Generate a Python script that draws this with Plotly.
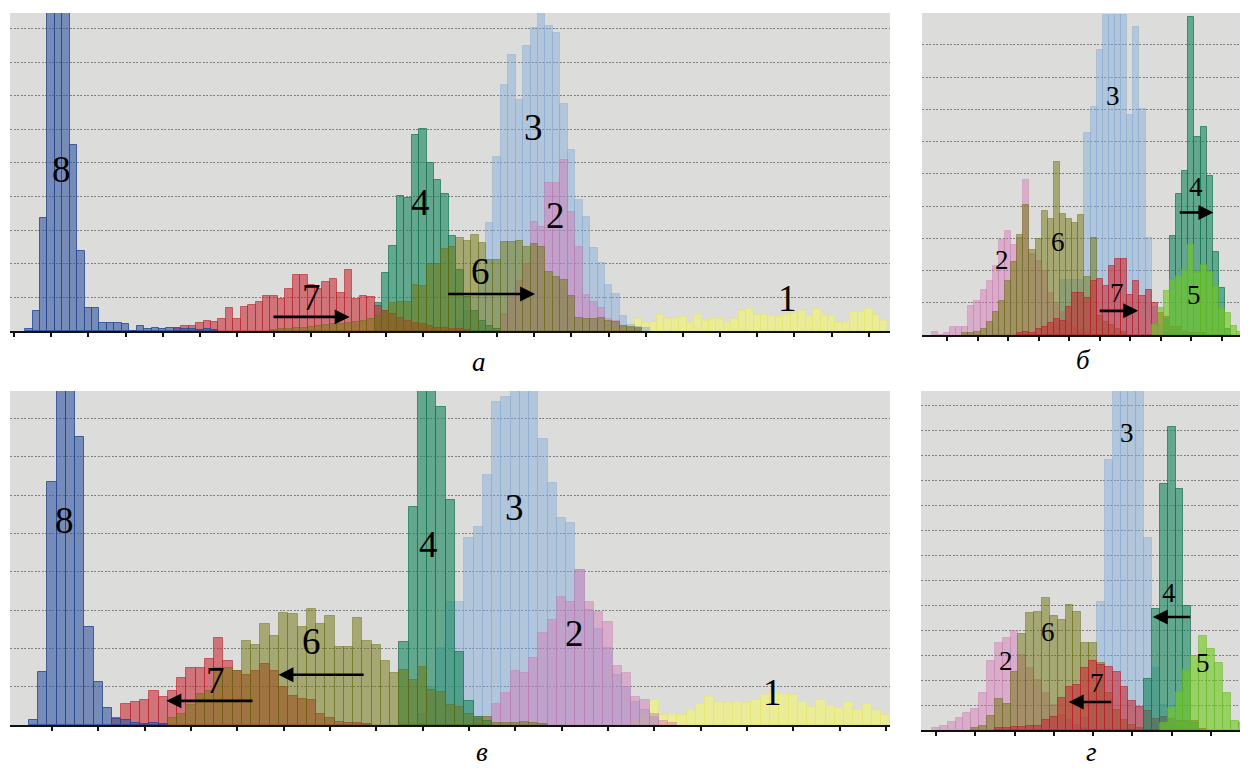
import plotly.graph_objects as go

BIN = 0.2  # bin width in tick units (5 bins per tick)

# ---------------- panel а (bin index start, heights in grid units) ----------------
A1_START = 80
A1 = [0.05, 0.08, 0.1, 0.18, 0.35, 0.25, 0.28, 0.48, 0.35, 0.35, 0.41, 0.25, 0.48, 0.31,
      0.35, 0.35, 0.28, 0.35, 0.6, 0.65, 0.48, 0.48, 0.45, 0.41, 0.48, 0.53, 0.6, 0.45,
      0.65, 0.48, 0.45, 0.25, 0.28, 0.57, 0.57, 0.65, 0.48, 0.31]
A2_START = 66
A2 = [0.5, 1.0, 1.5, 2.0, 3.25, 3.1, 4.41, 4.41, 5.09, 3.55, 2.51, 1.07, 0.87, 0.68, 0.35,
      0.31, 0.15, 0.1, 0.05]
A3_START = 60
A3 = [0.3, 0.6, 1.0, 1.8, 3.22, 5.19, 7.32, 8.21, 6.88, 8.48, 9.0, 9.8, 9.08, 8.86, 6.76,
      5.39, 3.9, 3.4, 2.46, 2.03, 1.37, 1.1, 0.45, 0.18, 0.13, 0.08]
A4_START = 49
A4 = [0.82, 1.72, 2.54, 4.01, 3.96, 5.83, 6.0, 4.99, 4.49, 4.09, 2.83, 1.8, 1.0, 0.6, 0.3,
      0.15, 0.05]
A6_START = 35
A6 = [0.03, 0.05, 0.05, 0.08, 0.1, 0.12, 0.15, 0.18, 0.2, 0.22, 0.25, 0.28, 0.3, 0.35,
      0.45, 0.6, 0.84, 0.85, 0.85, 1.37, 1.33, 1.99, 2.0, 2.43, 2.51, 2.76, 2.69, 2.86, 2.63,
      2.11, 2.11, 2.66, 2.66, 2.69, 2.49, 2.58, 2.51, 1.77, 1.62, 1.52, 1.04, 0.38, 0.35,
      0.35, 0.38, 0.31, 0.28, 0.15, 0.11, 0.08]
A7_START = 22
A7 = [0.05, 0.15, 0.15, 0.23, 0.31, 0.28, 0.35, 0.69, 0.35, 0.7, 0.76, 0.85, 1.04, 1.04,
      0.94, 1.24, 1.67, 1.67, 1.37, 1.25, 1.46, 1.56, 1.13, 1.82, 0.94, 1.04, 1.0, 0.73,
      0.6, 0.5, 0.4, 0.3, 0.25, 0.2, 0.15, 0.1, 0.08, 0.05, 0.05, 0.03]
A8_START = 2
A8 = [0.05, 0.6, 3.36, 11, 12, 10, 5.54, 2.38, 0.69, 0.69, 0.24, 0.24, 0.24, 0.2, 0, 0.15,
      0.05, 0.1, 0.05, 0.08, 0.1, 0.05, 0.05, 0.03, 0.05, 0.03]

# ---------------- panel б ----------------
B2_START = -2
B2 = [0.1, 0, 0.07, 0.26, 0.26, 0.26, 0.9, 1.04, 1.4, 1.68, 2.15, 2.94, 3.22, 2.8, 3.0,
      4.8, 2.5, 2.3, 2.0, 1.3, 1.0, 0.7, 0.4, 0.25, 0.15, 0.1]
B3_START = 18
B3 = [0.3, 1.7, 1.7, 1.7, 1.7, 6.26, 7.06, 8.85, 9.92, 9.93, 9.93, 9.93, 6.82, 9.55, 7.01,
      3.01, 0.88, 0.3, 0.1]
B4_START = 36
B4 = [0.5, 3.06, 4.36, 5.09, 9.86, 6.13, 6.44, 4.93, 2.56, 1.45, 0.2]
B5_START = 34
B5 = [0.3, 0.83, 1.35, 1.72, 1.82, 2.02, 2.8, 1.92, 2.18, 1.97, 1.5, 0.8, 0.67, 0.28, 0.1]
B6_START = 3
B6 = [0.07, 0.07, 0.1, 0.2, 0.39, 0.72, 1.04, 1.66, 2.25, 3.11, 4.02, 2.65, 2.98, 3.84, 3.6,
      5.37, 3.74, 3.6, 3.48, 3.71, 1.8, 3.0, 0.6, 0.4, 0.3, 0.2, 0.1]
B7_START = 12
B7 = [0.05, 0.08, 0.05, 0.18, 0.26, 0.36, 0.49, 0.42, 0.88, 1.3, 1.3, 1.15, 1.66, 1.74,
      1.51, 2.13, 2.36, 2.36, 1.25, 1.66, 1.2, 1.4, 0.99, 0.68, 0.57, 0.26, 0.26, 0.1, 0.07,
      0.05, 0.05]

# ---------------- panel в ----------------
C1_START = 63
C1 = [0.1, 0.3, 0.65, 0.26, 0.3, 0.26, 0.39, 0.54, 0.74, 0.61, 0.57, 0.61, 0.57, 0.65, 0.78,
      0.83, 0.8, 0.78, 0.59, 0.48, 0.65, 0.5, 0.44, 0.59, 0.39, 0.54, 0.39, 0.26]
C2_START = 46
C2 = [0.2, 0.2, 0.54, 0.83, 1.4, 1.35, 1.76, 2.4, 2.74, 3.35, 3.22, 4.05, 3.22, 2.96, 2.7,
      1.53, 1.35, 0.74, 0.65, 0.3, 0.1, 0.05]
C3_START = 40
C3 = [0.3, 1.0, 2.0, 3.2, 3.22, 4.87, 5.17, 6.54, 8.43, 8.57, 9.0, 9.2, 9.0, 7.48, 6.31,
      5.41, 5.27, 4.05, 3.0, 2.5, 2.0, 1.3, 1.0, 0.6, 0.4, 0.2]
C4_START = 38
C4 = [2.18, 5.7, 10.8, 10, 8.31, 5.87, 1.91, 0.62, 0.2, 0.1]
C6_START = 13
C6 = [0.17, 0.29, 0.51, 0.81, 0.9, 1.48, 1.48, 1.4, 2.19, 2.1, 2.65, 2.33, 2.93, 2.89, 2.57,
      3.03, 2.65, 2.85, 2.04, 2.04, 2.79, 2.19, 2.1, 1.67, 1.35, 1.43, 1.17, 1.52, 0.91,
      0.87, 0.51, 0.46, 0.3, 0.15, 0.2, 0.05, 0.05, 0.05, 0.08, 0.05, 0.03]
C7_START = 7
C7 = [0.17, 0.55, 0.59, 0.65, 0.89, 0.74, 0.9, 1.22, 1.5, 1.5, 1.72, 2.27, 1.66, 1.4, 1.3,
      1.4, 1.58, 1.4, 0.98, 0.77, 0.68, 0.64, 0.29, 0.17, 0.09, 0.05, 0.05, 0.03]
C8_START = -2
C8 = [0.13, 1.39, 6.35, 10, 10.5, 7.53, 2.57, 1.11, 0.45, 0.15, 0.13, 0.05, 0.03, 0.05, 0.03]

# ---------------- panel г ----------------
D2_START = 0
D2 = [0.09, 0.17, 0.33, 0.49, 0.67, 0.83, 1.47, 2.76, 3.47, 3.67, 3.96, 3.0, 2.5, 2.0, 1.5,
      1.0, 0.6, 0.4, 0.2, 0.1]
D3_START = 19
D3 = [0.5, 1.5, 5.11, 10.8, 14, 15, 14.5, 14, 7.69, 2.5, 1.0, 0.3]
D4_START = 27
D4 = [2.04, 4.84, 9.83, 12.13, 9.63, 4.97, 0.3]
D5_START = 29
D5 = [0.3, 0.89, 1.53, 2.4, 2.97, 3.77, 3.24, 2.67, 1.47, 0.36, 0.27]
D6_START = 5
D6 = [0.07, 0.17, 0.56, 1.24, 1.03, 2.31, 3.83, 4.67, 4.71, 5.27, 4.57, 4.4, 5.0, 4.71, 3.47,
      3.47, 2.7, 1.5, 0.8, 0.4, 0.2, 0.1]
D7_START = 8
D7 = [0.07, 0.1, 0.12, 0.12, 0.17, 0.17, 0.4, 0.53, 1.27, 1.73, 1.8, 2.47, 2.76, 2.6, 2.53,
      2.33, 1.73, 1.16, 0.93, 0.76, 0.44, 0.53, 0.44, 0.36, 0.36, 0.36, 0.05]

PANEL_LABELS = ["а", "б", "в", "г"]

# fill / outline colours per series number
COLORS = {
    "1": ("rgba(250,250,90,0.52)", "rgba(225,225,80,0.35)"),
    "2": ("rgba(210,115,180,0.45)", "rgba(200,110,170,0.35)"),
    "3": ("rgba(125,170,220,0.45)", "rgba(120,160,210,0.35)"),
    "4": ("rgba(25,135,95,0.62)", "rgba(20,115,80,0.7)"),
    "5": ("rgba(110,200,30,0.62)", "rgba(100,185,30,0.55)"),
    "6": ("rgba(110,115,10,0.5)", "rgba(100,105,10,0.45)"),
    "7": ("rgba(200,40,50,0.58)", "rgba(185,30,40,0.6)"),
    "8": ("rgba(50,85,160,0.6)", "rgba(35,70,150,0.8)"),
}

PANELS = [
    ("x", "y", [("1", A1_START, A1), ("3", A3_START, A3), ("2", A2_START, A2),
                ("4", A4_START, A4), ("7", A7_START, A7), ("6", A6_START, A6),
                ("8", A8_START, A8)]),
    ("x2", "y2", [("3", B3_START, B3), ("2", B2_START, B2), ("6", B6_START, B6),
                  ("7", B7_START, B7), ("4", B4_START, B4), ("5", B5_START, B5)]),
    ("x3", "y3", [("1", C1_START, C1), ("3", C3_START, C3), ("2", C2_START, C2),
                  ("4", C4_START, C4), ("7", C7_START, C7), ("6", C6_START, C6),
                  ("8", C8_START, C8)]),
    ("x4", "y4", [("3", D3_START, D3), ("2", D2_START, D2), ("6", D6_START, D6),
                  ("7", D7_START, D7), ("4", D4_START, D4), ("5", D5_START, D5)]),
]

fig = go.Figure()
for xa, ya, series in PANELS:
    for num, start, vals in series:
        fill, line = COLORS[num]
        fig.add_trace(go.Bar(
            x=[(start + i) * BIN for i in range(len(vals))], y=vals, width=BIN,
            xaxis=xa, yaxis=ya, marker=dict(color=fill, line=dict(color=line, width=1)),
            showlegend=False, hoverinfo="skip"))

# page body has an 8px margin; the figure is sized and positioned to compensate
OFF = 8
W, H = 1248 - OFF, 769 - OFF
def dx(l, r):
    return [(l - OFF) / W, (r - OFF) / W]
def dy(t, b):
    return [1 - (b - OFF) / H, 1 - (t - OFF) / H]

xcommon = dict(showgrid=False, zeroline=False, showticklabels=False, ticks="outside",
               ticklen=4, tickwidth=1.5, tickcolor="#111", showline=True,
               linecolor="#111", linewidth=2, dtick=1, tick0=0, fixedrange=True)
ycommon = dict(showgrid=True, gridcolor="#808080", griddash="2px,1.5px", gridwidth=1,
               zeroline=False, showticklabels=False, ticks="", showline=False, dtick=1,
               tick0=0, fixedrange=True)

fig.update_layout(
    width=W, height=H, margin=dict(l=0, r=0, t=0, b=0),
    paper_bgcolor="white", plot_bgcolor="#dcdddb", barmode="overlay", bargap=0,
    xaxis=dict(xcommon, domain=dx(10, 890), range=[-0.108, 23.57], anchor="y"),
    yaxis=dict(ycommon, domain=dy(13, 331), range=[0, 9.46], anchor="x"),
    xaxis2=dict(xcommon, domain=dx(922, 1243), range=[-0.818, 9.69], anchor="y2"),
    yaxis2=dict(ycommon, domain=dy(13, 335), range=[0, 9.99], anchor="x2"),
    xaxis3=dict(xcommon, domain=dx(10, 890), range=[-0.906, 18.09], anchor="y3"),
    yaxis3=dict(ycommon, domain=dy(391, 725), range=[0, 8.72], anchor="x3"),
    xaxis4=dict(xcommon, domain=dx(921, 1244), range=[-0.38, 7.84], anchor="y4"),
    yaxis4=dict(ycommon, domain=dy(391, 730), range=[0, 13.56], anchor="x4"),
)

SERIF = "Liberation Serif"
ann = []
def num(xa, ya, x, y, t, size):
    ann.append(dict(xref=xa, yref=ya, x=x, y=y, text=t, showarrow=False,
                    font=dict(family=SERIF, size=size, color="black")))
def arrow(xa, ya, x0, x1, y):
    ann.append(dict(xref=xa, yref=ya, axref=xa, ayref=ya, x=x1, y=y, ax=x0, ay=y,
                    text="", showarrow=True, arrowhead=2, arrowsize=1.15,
                    arrowwidth=2.6, arrowcolor="black", standoff=0, startstandoff=0))

BIG, SMALL = 37, 27
# panel а
num("x", "y", 1.29, 4.79, "8", BIG)
num("x", "y", 8.0, 1.01, "7", BIG)
arrow("x", "y", 6.94, 9.03, 0.42)
num("x", "y", 10.94, 3.81, "4", BIG)
num("x", "y", 13.97, 6.04, "3", BIG)
num("x", "y", 14.58, 3.45, "2", BIG)
num("x", "y", 12.55, 1.76, "6", BIG)
arrow("x", "y", 11.64, 14.02, 1.10)
num("x", "y", 20.8, 0.98, "1", BIG)
# panel б
num("x2", "y2", 5.44, 7.41, "3", SMALL)
num("x2", "y2", 1.80, 2.34, "2", SMALL)
num("x2", "y2", 3.64, 2.87, "6", SMALL)
num("x2", "y2", 5.57, 1.31, "7", SMALL)
arrow("x2", "y2", 4.95, 6.26, 0.75)
num("x2", "y2", 8.16, 4.58, "4", SMALL)
arrow("x2", "y2", 7.57, 8.72, 3.80)
num("x2", "y2", 8.07, 1.25, "5", SMALL)
# panel в
num("x3", "y3", 0.28, 5.35, "8", BIG)
num("x3", "y3", 3.54, 1.17, "7", BIG)
arrow("x3", "y3", 4.36, 2.47, 0.63)
num("x3", "y3", 5.6, 2.17, "6", BIG)
arrow("x3", "y3", 6.76, 4.89, 1.31)
num("x3", "y3", 8.13, 4.70, "4", BIG)
num("x3", "y3", 9.98, 5.69, "3", BIG)
num("x3", "y3", 11.29, 2.40, "2", BIG)
num("x3", "y3", 15.56, 0.86, "1", BIG)
# panel г
num("x4", "y4", 4.86, 11.88, "3", SMALL)
num("x4", "y4", 5.93, 5.48, "4", SMALL)
arrow("x4", "y4", 6.51, 5.52, 4.52)
num("x4", "y4", 1.78, 2.76, "2", SMALL)
num("x4", "y4", 2.85, 3.92, "6", SMALL)
num("x4", "y4", 4.10, 1.88, "7", SMALL)
arrow("x4", "y4", 4.50, 3.38, 1.12)
num("x4", "y4", 6.79, 2.68, "5", SMALL)

# panel letters (top row centred below the axes, bottom row anchored to the page bottom)
LETTER_POS = [(479, 362, "middle"), (1083, 360, "middle"), (482, 769, "bottom"),
              (1091, 769, "bottom")]
for (px, py, anc), t in zip(LETTER_POS, PANEL_LABELS):
    ann.append(dict(xref="paper", yref="paper", x=(px - OFF) / W, y=1 - (py - OFF) / H,
                    text=t, showarrow=False, xanchor="center", yanchor=anc,
                    font=dict(family=SERIF, size=27, color="black", style="italic")))

fig.update_layout(annotations=ann)
fig.write_html("out.html")
